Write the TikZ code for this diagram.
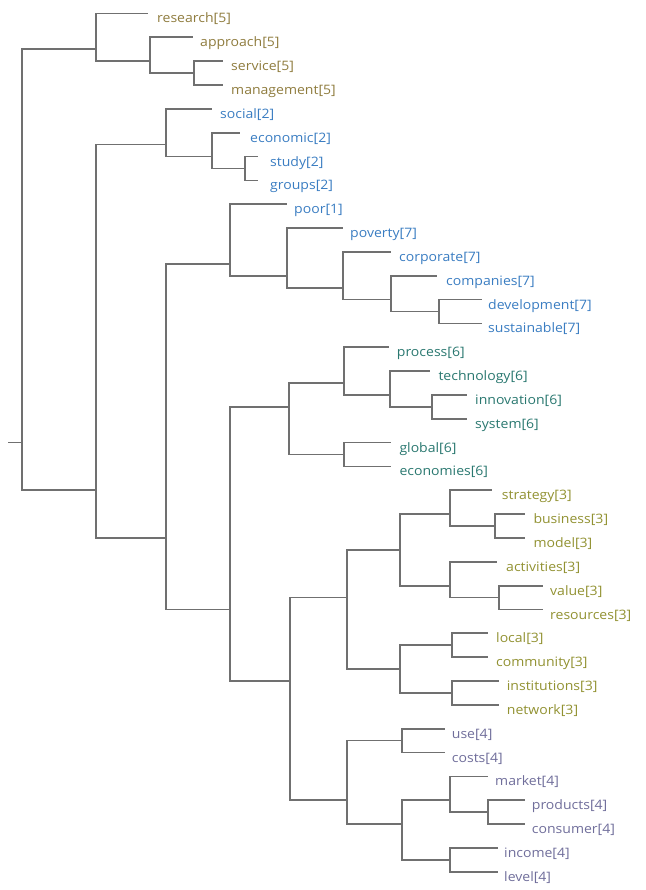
\documentclass[tikz,border=0pt]{standalone}
\usepackage{fontspec}
\setmainfont[FakeStretch=1.08]{Open Sans}
\definecolor{cgold}{RGB}{143,124,62}
\definecolor{cblue}{RGB}{58,125,194}
\definecolor{cteal}{RGB}{42,120,112}
\definecolor{colive}{RGB}{146,146,50}
\definecolor{cpurple}{RGB}{112,110,155}
\definecolor{linegray}{RGB}{112,112,112}
\newcommand\leaf[6]{\coordinate (#1) at (#3,#2); \node[lbl,text=#5] (#1-t) at (#4,#2) {#6};}
\begin{document}
\begin{tikzpicture}[x=1pt,y=-1pt,
  edge/.style={draw=linegray, line width=1.7pt},
  lbl/.style={anchor=west, inner sep=0pt, yshift=-2.5pt, text height=14pt, text depth=0pt, font=\fontsize{13}{15}\selectfont}]
\useasboundingbox[fill=white] (0,0) rectangle (645,890);
% leaves: name, y, line end x, text x, colour, label
\leaf{research}{13.5}{148}{157}{cgold}{research[5]}
\leaf{approach}{37.34}{193}{200}{cgold}{approach[5]}
\leaf{service}{61.18}{223}{231}{cgold}{service[5]}
\leaf{management}{85.02}{223}{231}{cgold}{management[5]}
\leaf{social}{108.86}{211.7}{220}{cblue}{social[2]}
\leaf{economic}{132.7}{240}{250}{cblue}{economic[2]}
\leaf{study}{156.54}{258}{270}{cblue}{study[2]}
\leaf{groups}{180.38}{258}{270}{cblue}{groups[2]}
\leaf{poor}{204.22}{286.7}{294}{cblue}{poor[1]}
\leaf{poverty}{228.06}{343.3}{350}{cblue}{poverty[7]}
\leaf{corporate}{251.9}{390.7}{399}{cblue}{corporate[7]}
\leaf{companies}{275.74}{437.3}{446}{cblue}{companies[7]}
\leaf{development}{299.58}{481.7}{488}{cblue}{development[7]}
\leaf{sustainable}{323.42}{481.7}{488}{cblue}{sustainable[7]}
\leaf{process}{347.26}{389.3}{396.7}{cteal}{process[6]}
\leaf{technology}{371.1}{430}{438.3}{cteal}{technology[6]}
\leaf{innovation}{394.94}{466.7}{475}{cteal}{innovation[6]}
\leaf{system}{418.78}{466.7}{475}{cteal}{system[6]}
\leaf{global}{442.62}{390.7}{399.3}{cteal}{global[6]}
\leaf{economies}{466.46}{390.7}{399.3}{cteal}{economies[6]}
\leaf{strategy}{490.3}{491.7}{501.7}{colive}{strategy[3]}
\leaf{business}{514.14}{525}{533.3}{colive}{business[3]}
\leaf{model}{537.98}{525}{533.3}{colive}{model[3]}
\leaf{activities}{561.82}{496.7}{506}{colive}{activities[3]}
\leaf{value}{585.66}{543.3}{550}{colive}{value[3]}
\leaf{resources}{609.5}{543.3}{550}{colive}{resources[3]}
\leaf{local}{633.34}{488.3}{496}{colive}{local[3]}
\leaf{community}{657.18}{488.3}{496}{colive}{community[3]}
\leaf{institutions}{681.02}{499.3}{506.7}{colive}{institutions[3]}
\leaf{network}{704.86}{499.3}{506.7}{colive}{network[3]}
\leaf{use}{728.7}{445}{451.7}{cpurple}{use[4]}
\leaf{costs}{752.54}{445}{451.7}{cpurple}{costs[4]}
\leaf{market}{776.38}{488.3}{495}{cpurple}{market[4]}
\leaf{products}{800.22}{525}{531.7}{cpurple}{products[4]}
\leaf{consumer}{824.06}{525}{531.7}{cpurple}{consumer[4]}
\leaf{income}{847.9}{498.3}{504}{cpurple}{income[4]}
\leaf{level}{871.74}{498.3}{504}{cpurple}{level[4]}
% internal nodes
\coordinate (stub) at (8,442.62);
\coordinate (root) at (21.7,442.62);
\coordinate (A) at (96,49.26);
\coordinate (A2) at (150,61.18);
\coordinate (A3) at (194,73.1);
\coordinate (B) at (96,490.3);
\coordinate (Bs) at (165.7,144.62);
\coordinate (Bs2) at (212.3,156.54);
\coordinate (Bs3) at (245,168.46);
\coordinate (C) at (165.7,538.0);
\coordinate (D) at (230,263.82);
\coordinate (F) at (286.7,275.74);
\coordinate (G) at (343.3,287.66);
\coordinate (H) at (390.7,299.58);
\coordinate (I) at (438.7,311.5);
\coordinate (E) at (230,609.5);
\coordinate (J) at (289.3,406.86);
\coordinate (K) at (344,383.02);
\coordinate (L) at (390,394.94);
\coordinate (M) at (431.7,406.86);
\coordinate (N) at (344,454.54);
\coordinate (O) at (290,681.02);
\coordinate (P) at (346.7,597.58);
\coordinate (Q) at (400,549.9);
\coordinate (R) at (450,514.14);
\coordinate (S) at (495,526.06);
\coordinate (T) at (450,585.66);
\coordinate (U) at (499.3,597.58);
\coordinate (V) at (400,669.1);
\coordinate (W) at (452.3,645.26);
\coordinate (X) at (452.3,692.94);
\coordinate (Y) at (346.7,800.22);
\coordinate (Z) at (401.7,740.62);
\coordinate (AA) at (401.7,824.06);
\coordinate (AB) at (450,800.22);
\coordinate (AC) at (488.3,812.14);
\coordinate (AD) at (450,859.82);
% connectors
\draw[edge] (stub) -- (root);
\foreach \p/\c in {root/A, root/B,
  A/research, A/A2, A2/approach, A2/A3, A3/service, A3/management,
  B/Bs, B/C, Bs/social, Bs/Bs2, Bs2/economic, Bs2/Bs3, Bs3/study, Bs3/groups,
  C/D, C/E, D/poor, D/F, F/poverty, F/G, G/corporate, G/H, H/companies, H/I,
  I/development, I/sustainable,
  E/J, E/O, J/K, J/N, K/process, K/L, L/technology, L/M, M/innovation, M/system,
  N/global, N/economies,
  O/P, O/Y, P/Q, P/V, Q/R, Q/T, R/strategy, R/S, S/business, S/model,
  T/activities, T/U, U/value, U/resources, V/W, V/X, W/local, W/community,
  X/institutions, X/network,
  Y/Z, Y/AA, Z/use, Z/costs, AA/AB, AA/AD, AB/market, AB/AC, AC/products, AC/consumer,
  AD/income, AD/level}
  \draw[edge] (\p) |- (\c);
\end{tikzpicture}
\end{document}
